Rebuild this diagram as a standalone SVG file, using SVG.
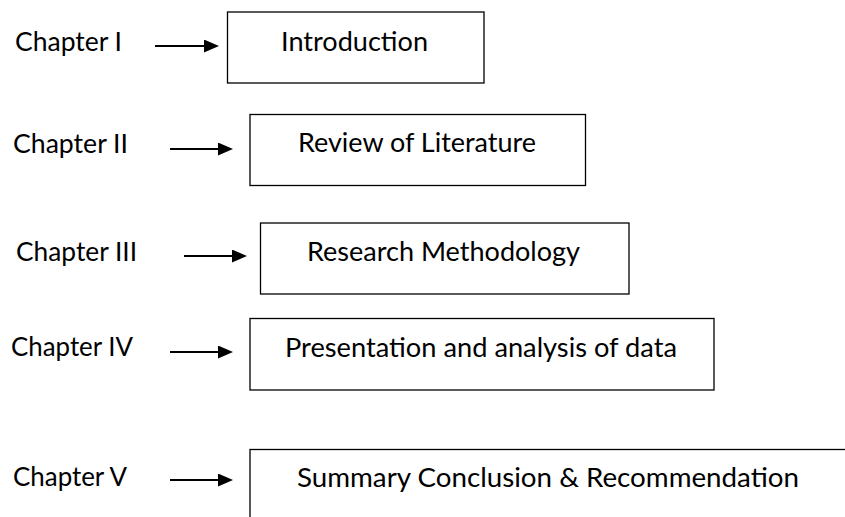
<svg xmlns="http://www.w3.org/2000/svg" width="845" height="517" viewBox="0 0 845 517">
<style>
  .lbl { font-family: "Lato", "Open Sans", "Liberation Sans", sans-serif; font-size: 26.5px; fill: #000; }
  .box { fill: #fff; stroke: #000; stroke-width: 1.3; }
  .arr { stroke: #000; stroke-width: 2; fill: none; }
</style>
<defs>
  <marker id="ah" markerUnits="userSpaceOnUse" markerWidth="15" markerHeight="13" refX="0" refY="6.5" orient="auto">
    <path d="M0,0 L15,6.5 L0,13 Z" fill="#000"/>
  </marker>
</defs>
<rect width="845" height="517" fill="#fff"/>

<g id="labels">
  <text class="lbl" x="15" y="51" textLength="107" lengthAdjust="spacingAndGlyphs">Chapter I</text>
  <text class="lbl" x="13" y="153" textLength="115" lengthAdjust="spacingAndGlyphs">Chapter II</text>
  <text class="lbl" x="16" y="261" textLength="121" lengthAdjust="spacingAndGlyphs">Chapter III</text>
  <text class="lbl" x="11" y="356" textLength="122" lengthAdjust="spacingAndGlyphs">Chapter IV</text>
  <text class="lbl" x="13" y="486" textLength="114" lengthAdjust="spacingAndGlyphs">Chapter V</text>
</g>

<g id="node1">
  <rect class="box" x="227.5" y="12" width="256.5" height="71"/>
  <text class="lbl" x="281" y="51" textLength="147" lengthAdjust="spacingAndGlyphs">Introduction</text>
</g>
<g id="node2">
  <rect class="box" x="250" y="114.5" width="335.5" height="71"/>
  <text class="lbl" x="298" y="152" textLength="238" lengthAdjust="spacingAndGlyphs">Review of Literature</text>
</g>
<g id="node3">
  <rect class="box" x="260.5" y="223" width="368.5" height="71"/>
  <text class="lbl" x="307" y="261" textLength="273" lengthAdjust="spacingAndGlyphs">Research Methodology</text>
</g>
<g id="node4">
  <rect class="box" x="250" y="318.5" width="464" height="71.5"/>
  <text class="lbl" x="285" y="357" textLength="392" lengthAdjust="spacingAndGlyphs">Presentation and analysis of data</text>
</g>
<g id="node5">
  <rect class="box" x="250" y="449.5" width="620" height="90"/>
  <text class="lbl" x="297" y="487" textLength="502" lengthAdjust="spacingAndGlyphs">Summary Conclusion &amp; Recommendation</text>
</g>

<g id="connectors">
  <line class="arr" x1="155" y1="46" x2="204" y2="46" marker-end="url(#ah)"/>
  <line class="arr" x1="170" y1="149" x2="218" y2="149" marker-end="url(#ah)"/>
  <line class="arr" x1="184" y1="256" x2="232" y2="256" marker-end="url(#ah)"/>
  <line class="arr" x1="170" y1="352" x2="218" y2="352" marker-end="url(#ah)"/>
  <line class="arr" x1="170" y1="480" x2="218" y2="480" marker-end="url(#ah)"/>
</g>
</svg>
